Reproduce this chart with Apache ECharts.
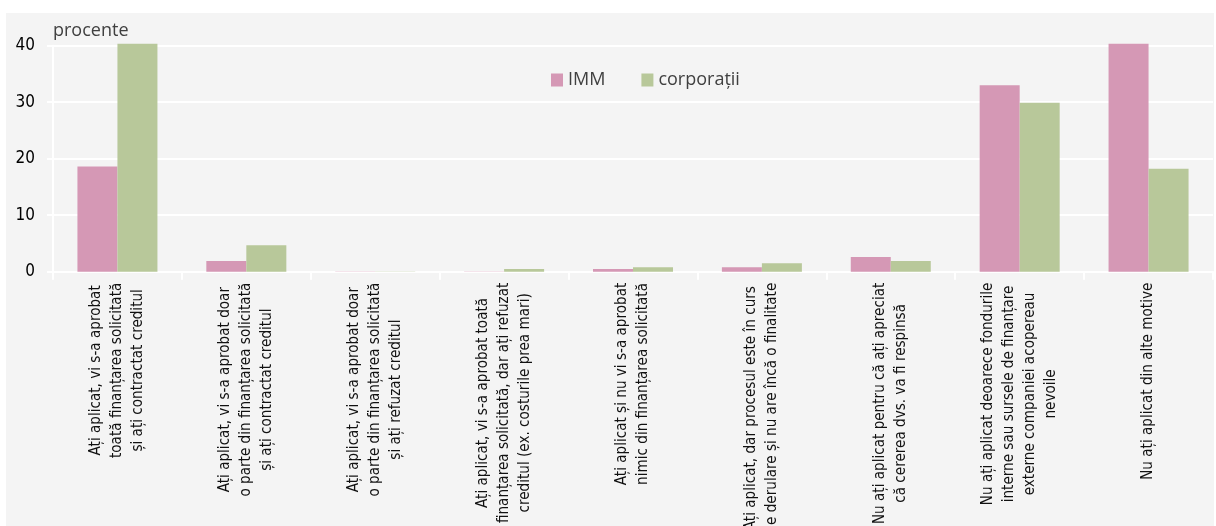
<!DOCTYPE html>
<html>
<head>
<meta charset="utf-8">
<script src="https://cdn.jsdelivr.net/npm/echarts@6/dist/echarts.min.js"></script>
<style>
  html, body { margin: 0; padding: 0; background: #ffffff; }
  #chart { width: 1216px; height: 526px; }
</style>
</head>
<body>
<div id="chart"></div>
<script>
// Survey answers, each split into the lines shown under the axis
const categories = [
  ['Ați aplicat, vi s-a aprobat', 'toată finanțarea solicitată', 'și ați contractat creditul'],
  ['Ați aplicat, vi s-a aprobat doar', 'o parte din finanțarea solicitată', 'și ați contractat creditul'],
  ['Ați aplicat, vi s-a aprobat doar', 'o parte din finanțarea solicitată', 'și ați refuzat creditul'],
  ['Ați aplicat, vi s-a aprobat toată', 'finanțarea solicitată, dar ați refuzat', 'creditul (ex. costurile prea mari)'],
  ['Ați aplicat și nu vi s-a aprobat', 'nimic din finanțarea solicitată'],
  ['Ați aplicat, dar procesul este în curs', 'de derulare și nu are încă o finalitate'],
  ['Nu ați aplicat pentru că ați apreciat', 'că cererea dvs. va fi respinsă'],
  ['Nu ați aplicat deoarece fondurile', 'interne sau sursele de finanțare', 'externe companiei acopereau', 'nevoile'],
  ['Nu ați aplicat din alte motive']
];

const seriesNames = ['IMM', 'corporații'];

// percent of respondents
const immValues = [18.6, 1.9, 0.05, 0.05, 0.5, 0.8, 2.6, 33.0, 40.35];
const corpValues = [40.35, 4.7, 0.05, 0.5, 0.8, 1.5, 1.9, 29.9, 18.2];

const yTicks = { min: 0, max: 40, interval: 10 };

const categoryKeys = categories.map((lines, i) => String(i));

// Pick the first narrow family that is installed, and size it so a
// reference string takes the wanted width.
const measureCtx = document.createElement('canvas').getContext('2d');
function textWidth(font, text) {
  measureCtx.font = font;
  return measureCtx.measureText(text).width;
}
function pickFamily(candidates) {
  const probe = 'Ați aplicat, vi s-a aprobat 0123456789';
  const base = textWidth('100px monospace', probe);
  for (const fam of candidates) {
    if (Math.abs(textWidth('100px "' + fam + '", monospace', probe) - base) > 0.5) {
      return fam;
    }
  }
  return 'sans-serif';
}
function fitSize(family, text, width) {
  const w = textWidth('100px "' + family + '"', text);
  return Math.round((width / w) * 100 * 10) / 10;
}

const narrowFamily = pickFamily(['Liberation Sans Narrow', 'Arial Narrow', 'DejaVu Sans Condensed']);
const condensed = '"' + narrowFamily + '", sans-serif';
const regular = '"Open Sans", "Noto Sans", sans-serif';
const catFontSize = Math.min(19, fitSize(narrowFamily, 'Ați aplicat, vi s-a aprobat', 170));
const yFontSize = 17;

const chart = echarts.init(document.getElementById('chart'), null, { renderer: 'canvas' });

chart.setOption({
  backgroundColor: '#ffffff',
  animation: false,
  graphic: [
    {
      type: 'rect',
      z: -100,
      silent: true,
      shape: { x: 6, y: 13, width: 1208, height: 513 },
      style: { fill: '#f4f4f4' }
    },
    {
      type: 'text',
      left: 53,
      top: 22,
      style: { text: 'procente', font: '18px ' + regular, fill: '#404040' }
    }
  ],
  legend: {
    left: 546,
    top: 66,
    itemWidth: 12,
    itemHeight: 13,
    itemGap: 36,
    icon: 'rect',
    textStyle: { fontFamily: regular, fontSize: 18, color: '#404040' },
    data: seriesNames
  },
  grid: {
    left: 53,
    right: 3,
    top: 45.7,
    bottom: 254.3,
    containLabel: false,
    outerBoundsMode: 'none'
  },
  xAxis: {
    type: 'category',
    data: categoryKeys,
    axisLine: { show: true, lineStyle: { color: '#ffffff', width: 2 } },
    axisTick: { show: true, length: 8, lineStyle: { color: '#ffffff', width: 2 } },
    axisLabel: {
      interval: 0,
      rotate: 90,
      margin: 11,
      color: '#111111',
      fontFamily: condensed,
      fontSize: catFontSize,
      lineHeight: 21,
      hideOverlap: false,
      formatter: function (value) {
        return categories[Number(value)].map(line => '{c|' + line + '}').join('\n');
      },
      rich: {
        c: {
          align: 'center',
          fontFamily: condensed,
          fontSize: catFontSize,
          lineHeight: 21,
          color: '#111111'
        }
      }
    },
    splitLine: { show: false }
  },
  yAxis: {
    type: 'value',
    min: yTicks.min,
    max: yTicks.max,
    interval: yTicks.interval,
    axisLine: { show: true, lineStyle: { color: '#ffffff', width: 2 } },
    axisTick: { show: true, length: 6, lineStyle: { color: '#ffffff', width: 2 } },
    axisLabel: {
      margin: 18,
      color: '#000000',
      fontFamily: condensed,
      fontSize: yFontSize
    },
    splitLine: { show: true, lineStyle: { color: '#ffffff', width: 2 } }
  },
  series: [
    {
      name: seriesNames[0],
      type: 'bar',
      data: immValues,
      barWidth: 40,
      barGap: '0%',
      clip: false,
      itemStyle: { color: '#d598b5' }
    },
    {
      name: seriesNames[1],
      type: 'bar',
      data: corpValues,
      barWidth: 40,
      barGap: '0%',
      clip: false,
      itemStyle: { color: '#b8c89a' }
    }
  ]
});
</script>
</body>
</html>
